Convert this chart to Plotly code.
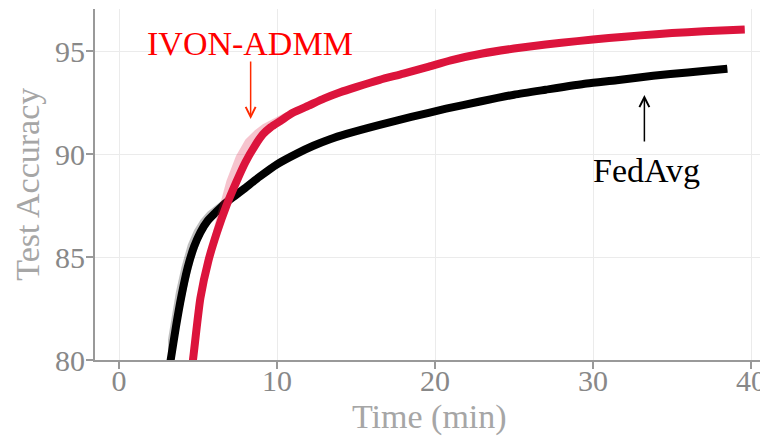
import plotly.graph_objects as go

# ---- data ----
ivon_t = [4.55, 4.68, 5.15, 5.65, 6.2, 6.8, 7.4, 8.0, 8.6, 9.1, 9.6, 10.2, 11.0, 12.0, 13.0,
          14.0, 15.0, 16.5, 18.0, 19.5, 21.0, 23.0, 25.0, 27.0, 29.0, 31.0, 33.0, 35.0, 37.0, 38.5, 39.6]
ivon_acc = [79.3, 80.0, 83.0, 84.8, 86.2, 87.5, 88.6, 89.6, 90.4, 90.95, 91.3, 91.6, 92.0, 92.35, 92.7,
            93.0, 93.25, 93.6, 93.9, 94.22, 94.55, 94.88, 95.12, 95.32, 95.48, 95.63, 95.76, 95.87, 95.96, 96.01, 96.05]
ivon_upper = [79.6, 80.4, 83.5, 85.3, 87.0, 88.7, 89.9, 90.7, 91.15, 91.45, 91.65, 91.85, 92.2, 92.5, 92.85,
              93.15, 93.4, 93.75, 94.05, 94.37, 94.7, 95.03, 95.27, 95.47, 95.63, 95.78, 95.91, 96.02, 96.11, 96.16, 96.2]
ivon_lower = [79.0, 79.6, 82.5, 84.2, 85.7, 87.1, 88.3, 89.35, 90.2, 90.75, 91.1, 91.45, 91.85, 92.2, 92.55,
              92.85, 93.1, 93.45, 93.75, 94.07, 94.4, 94.73, 94.97, 95.17, 95.33, 95.48, 95.63, 95.74, 95.84, 95.89, 95.93]

fedavg_t = [3.1, 3.27, 3.6, 3.95, 4.35, 4.75, 5.15, 5.6, 6.1, 6.7, 7.3, 7.9, 8.9, 10.0, 11.25, 12.3, 13.35,
            14.4, 16.5, 18.5, 20.7, 22.85, 25.0, 27.0, 29.6, 31.5, 33.8, 36.0, 38.0, 38.5]
fedavg_acc = [79.3, 80.0, 81.6, 83.1, 84.5, 85.5, 86.2, 86.75, 87.15, 87.6, 87.95, 88.3, 88.9, 89.5, 90.02, 90.4,
              90.72, 90.98, 91.42, 91.8, 92.2, 92.55, 92.88, 93.12, 93.42, 93.58, 93.8, 93.96, 94.1, 94.14]
fedavg_upper = [81.0, 81.8, 83.3, 84.5, 85.6, 86.3, 86.8, 87.2, 87.5, 87.85, 88.15, 88.48, 89.05, 89.65, 90.17, 90.55,
                90.87, 91.13, 91.57, 91.95, 92.35, 92.7, 93.03, 93.27, 93.57, 93.73, 93.95, 94.1, 94.24, 94.28]
fedavg_lower = [78.6, 79.1, 80.7, 82.2, 83.7, 84.9, 85.8, 86.45, 86.95, 87.42, 87.8, 88.15, 88.77, 89.37, 89.89, 90.27,
                90.59, 90.85, 91.29, 91.67, 92.07, 92.42, 92.75, 93.0, 93.3, 93.45, 93.67, 93.83, 93.97, 94.01]

x_ticks = [0, 10, 20, 30, 40]
y_ticks = [80, 85, 90, 95]

SERIF = "Liberation Serif, Times New Roman, serif"
RED = "#DC143C"

fig = go.Figure()

def band(t, up, lo, color):
    return go.Scatter(x=t + t[::-1], y=up + lo[::-1], fill="toself", fillcolor=color,
                      line=dict(width=0), mode="lines", hoverinfo="skip", showlegend=False)

fig.add_trace(band(fedavg_t, fedavg_upper, fedavg_lower, "rgba(0,0,0,0.25)"))
fig.add_trace(go.Scatter(x=fedavg_t, y=fedavg_acc, mode="lines", name="FedAvg",
                         line=dict(color="black", width=8, shape="spline", smoothing=0.6), showlegend=False))
fig.add_trace(band(ivon_t, ivon_upper, ivon_lower, "rgba(220,20,60,0.25)"))
fig.add_trace(go.Scatter(x=ivon_t, y=ivon_acc, mode="lines", name="IVON-ADMM",
                         line=dict(color=RED, width=8, shape="spline", smoothing=0.6), showlegend=False))

axis_common = dict(showline=True, linecolor="#999999", linewidth=2, ticks="outside", ticklen=7,
                   tickwidth=2, tickcolor="#999999", showgrid=True, gridcolor="#ebebeb", gridwidth=1,
                   zeroline=False, automargin=False,
                   tickfont=dict(family=SERIF, size=30, color="#888888"))

fig.update_xaxes(range=[-1.52, 41.01], tickvals=x_ticks, ticklabelstandoff=-14, **axis_common)
fig.update_yaxes(range=[80, 97.04], tickvals=y_ticks, ticklabelstandoff=-5, **axis_common)

# axis titles
fig.add_annotation(xref="paper", yref="paper", x=0.4985, y=-0.163, text="Time (min)", showarrow=False,
                   font=dict(family=SERIF, size=34, color="#a6a6a6"), xanchor="center", yanchor="middle")
fig.add_annotation(xref="paper", yref="paper", x=-0.1016, y=0.5014, text="Test Accuracy", showarrow=False,
                   textangle=-90, font=dict(family=SERIF, size=34, color="#a6a6a6"),
                   xanchor="center", yanchor="middle")

fig.add_annotation(x=8.27, y=95.36, text="IVON-ADMM", showarrow=False,
                   font=dict(family=SERIF, size=34, color="#ff0000"), xanchor="center", yanchor="middle")
fig.add_annotation(x=8.33, y=91.7, ax=8.33, ay=94.56, axref="x", ayref="y", text="",
                   showarrow=True, arrowhead=5, arrowsize=1.3, arrowwidth=1.5, arrowcolor="#ff2a00", standoff=0)
fig.add_annotation(x=33.38, y=89.19, text="FedAvg", showarrow=False,
                   font=dict(family=SERIF, size=34, color="#000000"), xanchor="center", yanchor="middle")
fig.add_annotation(x=33.25, y=92.86, ax=33.25, ay=90.53, axref="x", ayref="y", text="",
                   showarrow=True, arrowhead=5, arrowsize=1.3, arrowwidth=1.5, arrowcolor="#000000", standoff=0)

# page body has an 8px margin, so the figure is sized to fill the 768x436 window from (8, 8)
fig.update_layout(width=760, height=428, margin=dict(l=87, r=1, t=1, b=76),
                  paper_bgcolor="white", plot_bgcolor="white", showlegend=False)

fig.write_html("out.html")
